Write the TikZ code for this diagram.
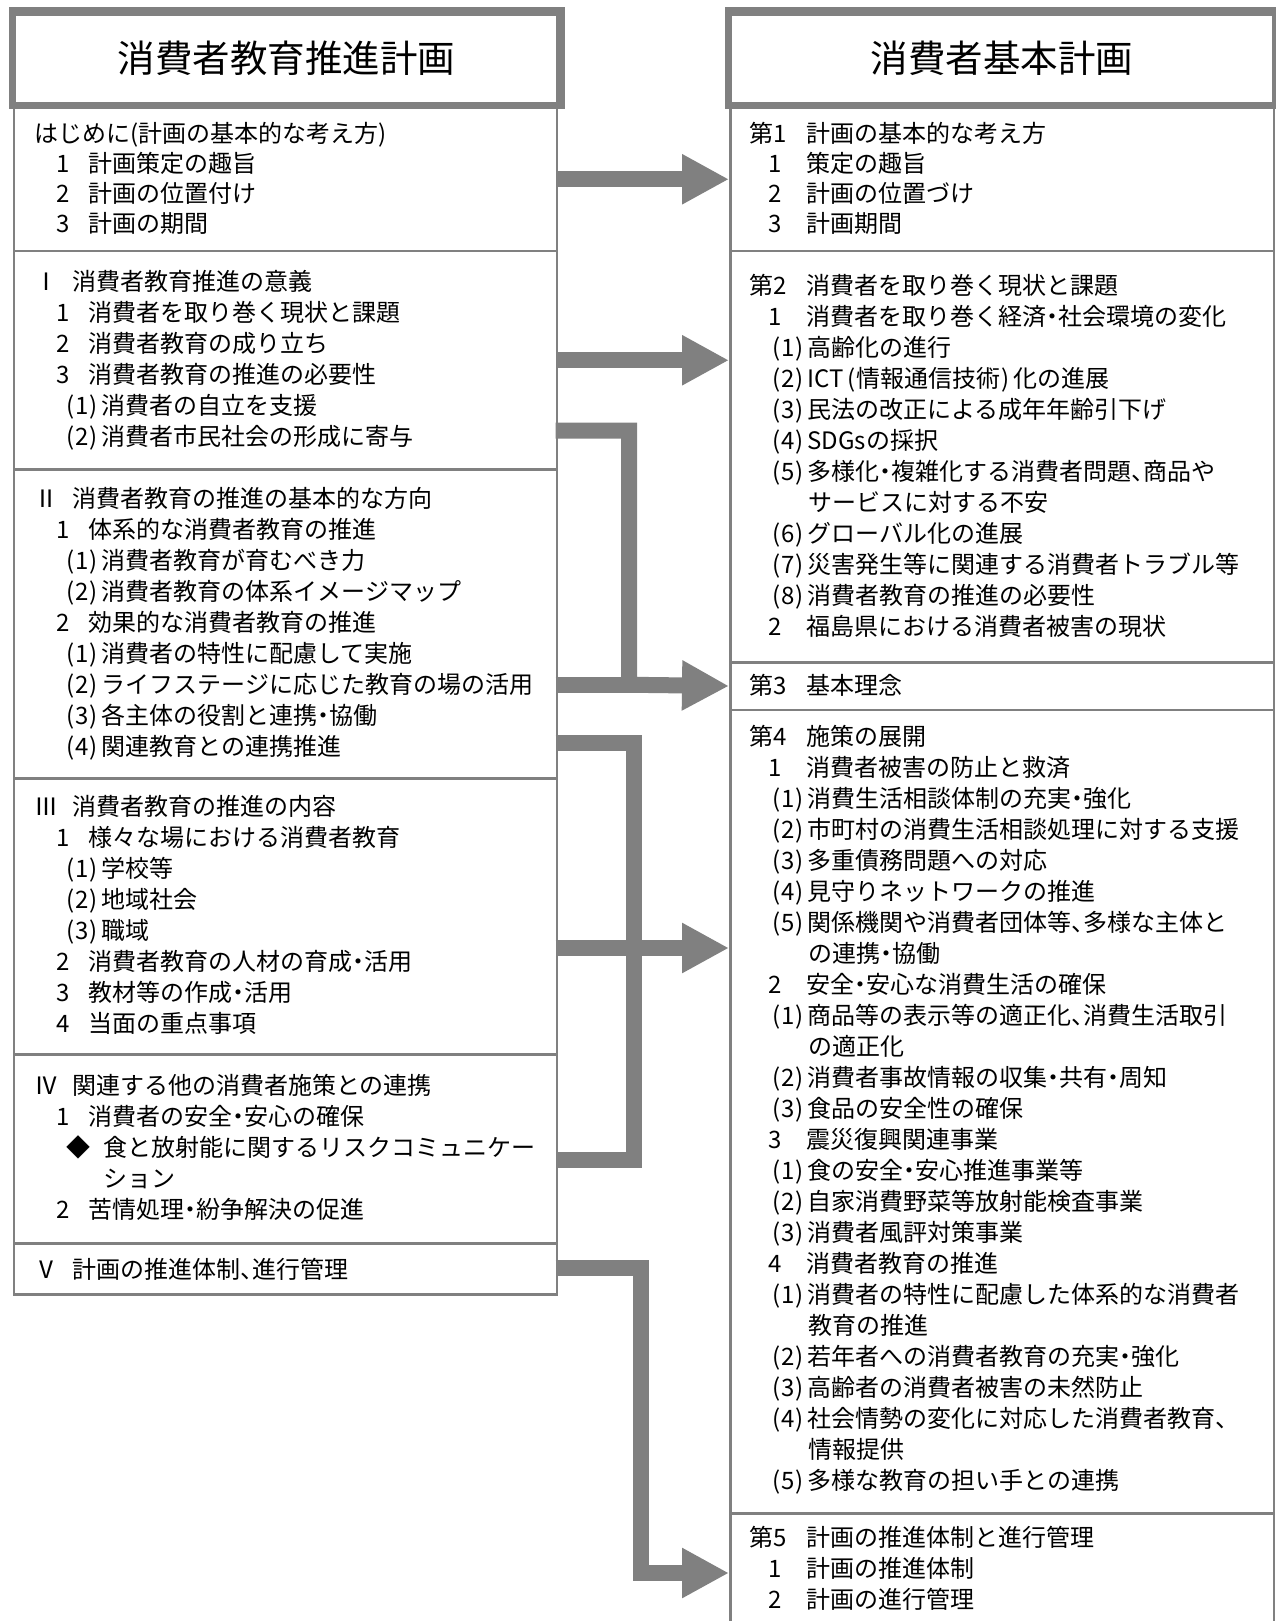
\documentclass[tikz,border=0pt]{standalone}
\usepackage{fontspec}
\setmainfont{Noto Sans CJK JP}
\usetikzlibrary{arrows.meta,calc}
\definecolor{gr}{RGB}{128,128,128}
\newcommand\lp{\makebox[13pt][r]{(\hspace{1pt}}}
\newcommand\rp{\makebox[13pt][l]{\hspace{1pt})}}
\newcommand\dt{\makebox[12pt][c]{・}}
\newcommand\cm{\makebox[12pt][l]{、}}
\tikzset{
  gline/.style={draw=gr, line width=2.5pt},
  secbox/.style={gline, rectangle, inner sep=0pt, anchor=north west, minimum width=#1},
  titlebox/.style={draw=gr, line width=7pt, rectangle, inner sep=0pt, anchor=north west},
  titletext/.style={font=\fontsize{37.5}{40}\selectfont},
  innerline/.style={draw=gr, line width=2pt},
  tx/.style={anchor=base west, inner sep=0pt, font=\fontsize{24}{28}\selectfont},
  band/.style={draw=gr, line width=16pt, line join=miter},
  arr/.style={band, -{Triangle[length=47pt,width=47pt]}},
}
\begin{document}
\begin{tikzpicture}[x=1pt,y=-1pt]
\useasboundingbox (0,0) rectangle (1275,1621);
\fill[white] (0,0) rectangle (1275,1621);

% title boxes
\node[titlebox, minimum width=549pt, minimum height=95pt] (T1) at (8.5,7.5) {};
\node[titletext] (T1t) at (T1.center) {消費者教育推進計画};
\draw[innerline] ($(T1.north west)+(5.5,7.5)$) rectangle ($(T1.south east)+(-7.5,-6.5)$);
\node[titlebox, minimum width=547pt, minimum height=95pt] (T2) at (725,7.5) {};
\node[titletext] (T2t) at (T2.center) {消費者基本計画};
\draw[innerline] ($(T2.north west)+(6,7.5)$) rectangle ($(T2.south east)+(-6,-6.5)$);

% left section boxes
\node[secbox=543pt, minimum height=144pt] (L0) at (12.5,106) {};
\node[secbox=543pt, minimum height=218pt] (L1) at (12.5,250) {};
\node[secbox=543pt, minimum height=309pt] (L2) at (12.5,468) {};
\node[secbox=543pt, minimum height=276pt] (L3) at (12.5,777) {};
\node[secbox=543pt, minimum height=189pt] (L4) at (12.5,1053) {};
\node[secbox=543pt, minimum height=51pt] (L5) at (12.5,1242) {};

% right section boxes
\node[secbox=543.5pt, minimum height=144pt] (R1) at (729,106) {};
\node[secbox=543.5pt, minimum height=411pt] (R2) at (729,250) {};
\node[secbox=543.5pt, minimum height=47.5pt] (R3) at (729,661) {};
\node[secbox=543.5pt, minimum height=803.5pt] (R4) at (729,708.5) {};
\node[secbox=543.5pt, minimum height=140pt] (R5) at (729,1512) {};

% left texts
\foreach \x/\w/\l/\t [count=\k from 0] in {
 34/0//はじめに(計画の基本的な考え方),
 56/32/1/計画策定の趣旨,
 56/32/2/計画の位置付け,
 56/32/3/計画の期間}
 {\node[tx] (s0-\k) at (\x,142.5+30*\k) {\makebox[\w pt][l]{\l}\t};}
\foreach \x/\w/\l/\t [count=\k from 0] in {
 34/38/Ⅰ/消費者教育推進の意義,
 56/32/1/消費者を取り巻く現状と課題,
 56/32/2/消費者教育の成り立ち,
 56/32/3/消費者教育の推進の必要性,
 62/0//\lp 1\rp 消費者の自立を支援,
 62/0//\lp 2\rp 消費者市民社会の形成に寄与}
 {\node[tx] (s1-\k) at (\x,290.2+31*\k) {\makebox[\w pt][l]{\l}\t};}
\foreach \x/\w/\l/\t [count=\k from 0] in {
 34/38/Ⅱ/消費者教育の推進の基本的な方向,
 56/32/1/体系的な消費者教育の推進,
 62/0//\lp 1\rp 消費者教育が育むべき力,
 62/0//\lp 2\rp 消費者教育の体系イメージマップ,
 56/32/2/効果的な消費者教育の推進,
 62/0//\lp 1\rp 消費者の特性に配慮して実施,
 62/0//\lp 2\rp ライフステージに応じた教育の場の活用,
 62/0//\lp 3\rp 各主体の役割と連携\dt 協働,
 62/0//\lp 4\rp 関連教育との連携推進}
 {\node[tx] (s2-\k) at (\x,507.4+31*\k) {\makebox[\w pt][l]{\l}\t};}
\foreach \x/\w/\l/\t [count=\k from 0] in {
 34/38/Ⅲ/消費者教育の推進の内容,
 56/32/1/様々な場における消費者教育,
 62/0//\lp 1\rp 学校等,
 62/0//\lp 2\rp 地域社会,
 62/0//\lp 3\rp 職域,
 56/32/2/消費者教育の人材の育成\dt 活用,
 56/32/3/教材等の作成\dt 活用,
 56/32/4/当面の重点事項}
 {\node[tx] (s3-\k) at (\x,815.5+31*\k) {\makebox[\w pt][l]{\l}\t};}
\foreach \x/\w/\l/\t [count=\k from 0] in {
 34/38/Ⅳ/関連する他の消費者施策との連携,
 56/32/1/消費者の安全\dt 安心の確保,
 66/37/◆/食と放射能に関するリスクコミュニケー,
 103/0//ション,
 56/32/2/苦情処理\dt 紛争解決の促進}
 {\node[tx] (s4-\k) at (\x,1094.7+31*\k) {\makebox[\w pt][l]{\l}\t};}
\node[tx] (s5-0) at (34,1278.8) {\makebox[38pt][l]{Ⅴ}計画の推進体制\cm 進行管理};

% right texts
\foreach \x/\w/\l/\t [count=\k from 0] in {
 749/57/第1/計画の基本的な考え方,
 768/38/1/策定の趣旨,
 768/38/2/計画の位置づけ,
 768/38/3/計画期間}
 {\node[tx] (r1-\k) at (\x,142.5+30*\k) {\makebox[\w pt][l]{\l}\t};}
\foreach \x/\w/\l/\t [count=\k from 0] in {
 749/57/第2/消費者を取り巻く現状と課題,
 768/38/1/消費者を取り巻く経済\dt 社会環境の変化,
 768/0//\lp 1\rp 高齢化の進行,
 768/0//\lp 2\rp ICT\lp 情報通信技術\rp 化の進展,
 768/0//\lp 3\rp 民法の改正による成年年齢引下げ,
 768/0//\lp 4\rp SDGsの採択,
 768/0//\lp 5\rp 多様化\dt 複雑化する消費者問題\cm 商品や,
 808/0//サービスに対する不安,
 768/0//\lp 6\rp グローバル化の進展,
 768/0//\lp 7\rp 災害発生等に関連する消費者トラブル等,
 768/0//\lp 8\rp 消費者教育の推進の必要性,
 768/38/2/福島県における消費者被害の現状}
 {\node[tx] (r2-\k) at (\x,294.4+31*\k) {\makebox[\w pt][l]{\l}\t};}
\node[tx] (r3-0) at (749,694.5) {\makebox[57pt][l]{第3}基本理念};
\foreach \x/\w/\l/\t [count=\k from 0] in {
 749/57/第4/施策の展開,
 768/38/1/消費者被害の防止と救済,
 768/0//\lp 1\rp 消費生活相談体制の充実\dt 強化,
 768/0//\lp 2\rp 市町村の消費生活相談処理に対する支援,
 768/0//\lp 3\rp 多重債務問題への対応,
 768/0//\lp 4\rp 見守りネットワークの推進,
 768/0//\lp 5\rp 関係機関や消費者団体等\cm 多様な主体と,
 808/0//の連携\dt 協働,
 768/38/2/安全\dt 安心な消費生活の確保,
 768/0//\lp 1\rp 商品等の表示等の適正化\cm 消費生活取引,
 808/0//の適正化,
 768/0//\lp 2\rp 消費者事故情報の収集\dt 共有\dt 周知,
 768/0//\lp 3\rp 食品の安全性の確保,
 768/38/3/震災復興関連事業,
 768/0//\lp 1\rp 食の安全\dt 安心推進事業等,
 768/0//\lp 2\rp 自家消費野菜等放射能検査事業,
 768/0//\lp 3\rp 消費者風評対策事業,
 768/38/4/消費者教育の推進,
 768/0//\lp 1\rp 消費者の特性に配慮した体系的な消費者,
 808/0//教育の推進,
 768/0//\lp 2\rp 若年者への消費者教育の充実\dt 強化,
 768/0//\lp 3\rp 高齢者の消費者被害の未然防止,
 768/0//\lp 4\rp 社会情勢の変化に対応した消費者教育\cm,
 808/0//情報提供,
 768/0//\lp 5\rp 多様な教育の担い手との連携}
 {\node[tx] (r4-\k) at (\x,745.2+31*\k) {\makebox[\w pt][l]{\l}\t};}
\foreach \x/\w/\l/\t [count=\k from 0] in {
 749/57/第5/計画の推進体制と進行管理,
 768/38/1/計画の推進体制,
 768/38/2/計画の進行管理}
 {\node[tx] (r5-\k) at (\x,1546.6+31*\k) {\makebox[\w pt][l]{\l}\t};}

% connectors
\draw[arr] (L0.east) -- (L0.east -| R1.west);
\draw[arr] (L1.east) -- (L1.east -| R2.west);

\coordinate (a3) at (555.5,430.5);
\coordinate (k3) at (629,684.75);
\coordinate (b3) at (555.5,684.75);
\draw[band] (b3) -- (k3);
\draw[arr] (a3) -| (k3) -- (R3.west);

\coordinate (a4) at (555.5,742.5);
\coordinate (m4) at (633.5,948);
\coordinate (b4) at (555.5,1159.5);
\coordinate (c4) at (555.5,948);
\draw[band] (a4) -| (m4) |- (b4);
\draw[arr] (c4) -- (c4 -| R4.west);

\coordinate (a5) at (555.5,1268);
\coordinate (k5) at (641,1573);
\draw[arr] (a5) -| (k5) -- (k5 -| R5.west);
\end{tikzpicture}
\end{document}
